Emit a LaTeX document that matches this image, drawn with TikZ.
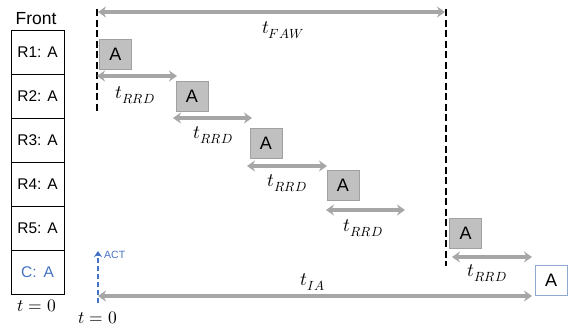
\documentclass[tikz,border=0pt]{standalone}
\usepackage{fontspec}
\setmainfont{Liberation Sans}
\usepackage{unicode-math}
\setmathfont{Latin Modern Math}
\usetikzlibrary{arrows.meta}
\definecolor{boxgray}{HTML}{C0C0C0}
\definecolor{boxedge}{HTML}{A0A0A0}
\definecolor{arrgray}{HTML}{A6A6A6}
\definecolor{actblue}{HTML}{4472C4}
\definecolor{edgeblue}{HTML}{8FA9D0}
\tikzset{
  cmd/.style={draw=boxedge, fill=boxgray, line width=0.8pt, minimum width=32pt, minimum height=30pt, inner sep=0pt, font=\fontsize{18}{18}\selectfont},
  lastcmd/.style={draw=edgeblue, fill=white, line width=0.8pt, minimum width=32pt, minimum height=30pt, inner sep=0pt, font=\fontsize{18}{18}\selectfont},
  row/.style={draw=black, line width=0.7pt, minimum width=53pt, minimum height=44pt, inner sep=0pt, font=\fontsize{15.5}{15.5}\selectfont},
  garrow/.style={draw=arrgray, line width=3.5pt, {Stealth[length=8pt,width=11pt]}-{Stealth[length=8pt,width=11pt]}},
  lbl/.style={font=\fontsize{19}{19}\selectfont, inner sep=0pt},
  tz/.style={font=\fontsize{17.5}{17.5}\selectfont, inner sep=0pt},
  wall/.style={draw=black, line width=2pt, dash pattern=on 7pt off 3.5pt},
}
\begin{document}
\begin{tikzpicture}[x=1pt,y=-1pt]
\useasboundingbox (0,0) rectangle (579,330);
% left column
\node[font=\fontsize{17.5}{17.5}\selectfont, inner sep=0pt] (front) at (36,19) {Front};
\node[row] (r1) at (37.5,52) {R1: A};
\node[row] (r2) at (37.5,96) {R2: A};
\node[row] (r3) at (37.5,140) {R3: A};
\node[row] (r4) at (37.5,184) {R4: A};
\node[row] (r5) at (37.5,228) {R5: A};
\node[row, text=actblue] (rc) at (37.5,272) {C:\ \,A};
\node[tz] (tzl) at (37,306) {$t=0$};
% walls
\coordinate (w1t) at (97,9);
\coordinate (w1b) at (97,112);
\coordinate (w2t) at (446,9);
\coordinate (w2b) at (446,266);
\draw[wall] (w1t) -- (w1b);
\draw[wall] (w2t) -- (w2b);
% tFAW
\coordinate (fawl) at (98,12);
\coordinate (fawr) at (445,12);
\draw[garrow] (fawl) -- (fawr);
\node[lbl] (faw) at (283,30) {$t_{FAW}$};
% command boxes
\node[cmd] (a1) at (115.5,54.5) {A};
\node[cmd] (a2) at (192,96) {A};
\node[cmd] (a3) at (266,143) {A};
\node[cmd] (a4) at (343,185.5) {A};
\node[cmd] (a5) at (465.5,233.5) {A};
\node[lastcmd] (a6) at (551,280) {A};
% tRRD arrows
\coordinate (r1l) at (97,76);  \coordinate (r1r) at (177,76);
\coordinate (r2l) at (173,118); \coordinate (r2r) at (252,118);
\coordinate (r3l) at (247,166); \coordinate (r3r) at (327,166);
\coordinate (r4l) at (326,210); \coordinate (r4r) at (405,210);
\coordinate (r5l) at (452,257); \coordinate (r5r) at (532,257);
\draw[garrow] (r1l) -- (r1r);
\draw[garrow] (r2l) -- (r2r);
\draw[garrow] (r3l) -- (r3r);
\draw[garrow] (r4l) -- (r4r);
\draw[garrow] (r5l) -- (r5r);
\node[lbl] (l1) at (135,95) {$t_{RRD}$};
\node[lbl] (l2) at (213,135) {$t_{RRD}$};
\node[lbl] (l3) at (287,183) {$t_{RRD}$};
\node[lbl] (l4) at (363,228) {$t_{RRD}$};
\node[lbl] (l5) at (487,273) {$t_{RRD}$};
% tIA
\coordinate (ial) at (98,296);
\coordinate (iar) at (532,296);
\draw[garrow] (ial) -- (iar);
\node[lbl] (ia) at (313,282) {$t_{IA}$};
% ACT
\coordinate (actb) at (98,303);
\coordinate (actt) at (98,251);
\draw[actblue, line width=1.8pt, dash pattern=on 5pt off 3pt, -{Stealth[length=6pt,width=8pt]}] (actb) -- (actt);
\node[text=actblue, font=\fontsize{10.5}{10.5}\selectfont, anchor=west, inner sep=0pt] (act) at (104,255) {ACT};
\node[tz] (tz) at (98,318) {$t=0$};
\end{tikzpicture}
\end{document}
